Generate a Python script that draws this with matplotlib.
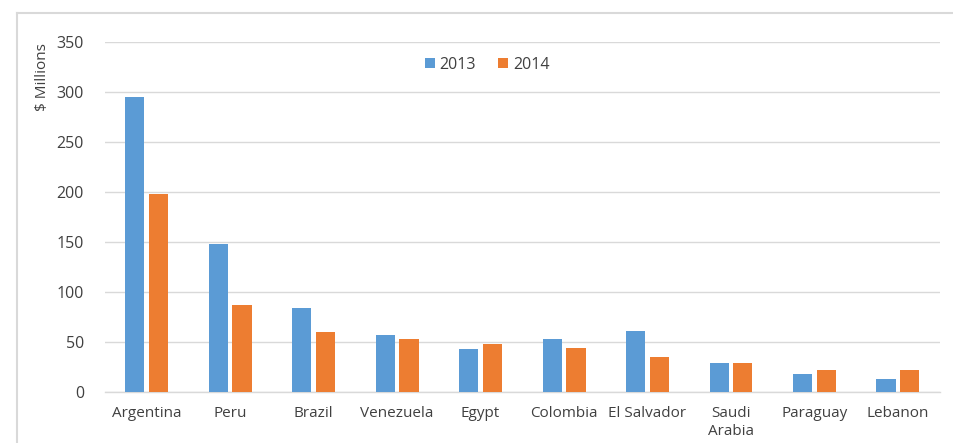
import matplotlib
matplotlib.use('Agg')
import matplotlib.pyplot as plt
from matplotlib.lines import Line2D
import numpy as np

plt.rcParams['font.family'] = ['Open Sans', 'DejaVu Sans']

countries = ['Argentina', 'Peru', 'Brazil', 'Venezuela', 'Egypt', 'Colombia',
             'El Salvador', 'Saudi\nArabia', 'Paraguay', 'Lebanon']
vals_2013 = [295, 148, 84, 57, 43, 53, 61, 29, 18, 13]
vals_2014 = [198, 87, 60, 53, 48, 44, 35, 29, 22, 22]
y_ticks = [0, 50, 100, 150, 200, 250, 300, 350]

COLOR_2013 = '#5B9BD5'
COLOR_2014 = '#ED7D31'
COLOR_GRID = '#D9D9D9'
COLOR_TEXT = '#404040'

fig = plt.figure(figsize=(9.54, 4.43), dpi=100)
ax = fig.add_axes([0.110, 0.115, 0.875, 0.79])

x = np.arange(len(countries))
w = 0.23
ax.bar(x - 0.142, vals_2013, width=w, color=COLOR_2013, label='2013', zorder=3)
ax.bar(x + 0.142, vals_2014, width=w, color=COLOR_2014, label='2014', zorder=3)

ax.set_xlim(-0.5, len(countries) - 0.5)
ax.set_ylim(0, 350)
ax.set_yticks(y_ticks)
ax.set_xticks(x)
ax.set_xticklabels(countries, fontsize=11, color=COLOR_TEXT, linespacing=1.25)
ax.tick_params(axis='y', labelsize=11.5, colors=COLOR_TEXT, length=0, pad=15)
ax.tick_params(axis='x', length=0, pad=10)

ax.grid(axis='y', color=COLOR_GRID, linewidth=1.0, zorder=0)
for side in ['top', 'right', 'left']:
    ax.spines[side].set_visible(False)
ax.spines['bottom'].set_color(COLOR_GRID)
ax.spines['bottom'].set_linewidth(1.0)

fig.text(0.045, 0.825, '$ Millions', rotation=90, ha='center', va='center',
         fontsize=11, color=COLOR_TEXT)

ax.legend(loc='center', bbox_to_anchor=(0.458, 0.935), ncol=2, frameon=False,
          fontsize=11.5, handlelength=0.6, handleheight=0.6, handletextpad=0.3,
          columnspacing=1.4, labelcolor=COLOR_TEXT)

# outer chart frame (top and left edges visible in the crop)
fig.add_artist(Line2D([17 / 954, 1.0], [1 - 13 / 443] * 2, color='#D9D9D9',
                      linewidth=1.5, transform=fig.transFigure))
fig.add_artist(Line2D([17 / 954] * 2, [0.0, 1 - 13 / 443], color='#D9D9D9',
                      linewidth=1.5, transform=fig.transFigure))

fig.savefig('out.png', dpi=100)
